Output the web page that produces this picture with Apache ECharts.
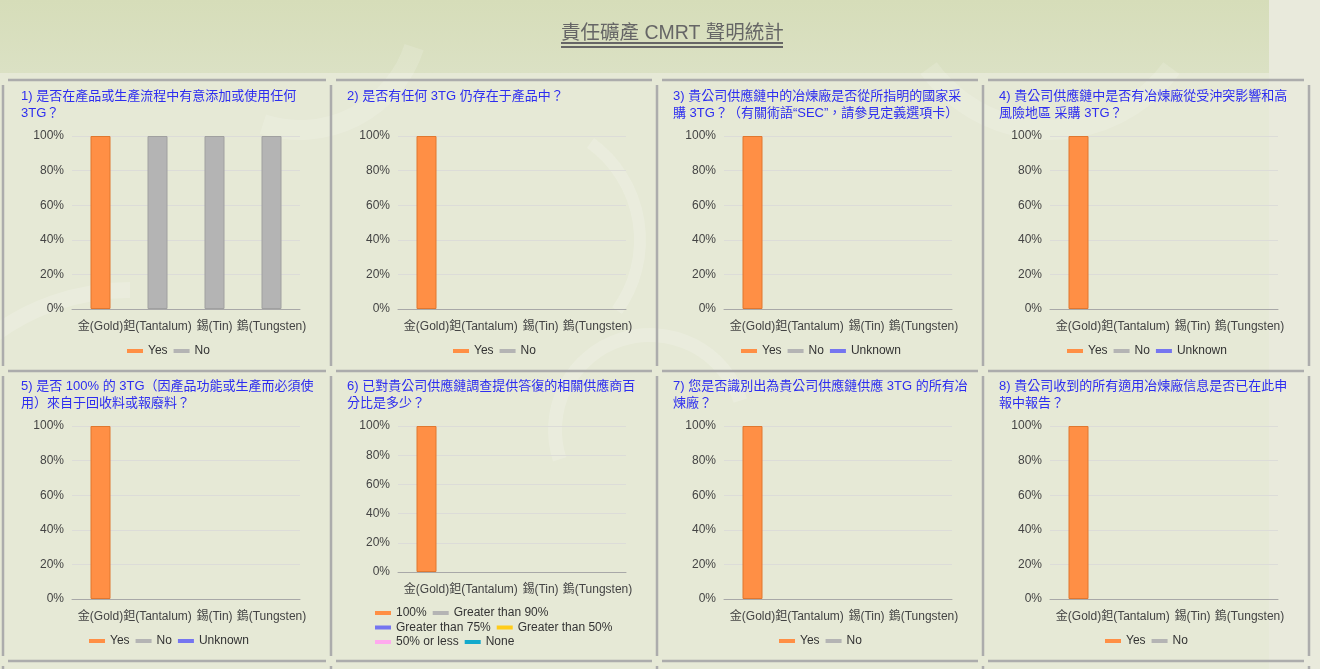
<!DOCTYPE html>
<html>
<head>
<meta charset="utf-8">
<script src="https://cdn.jsdelivr.net/npm/echarts@6/dist/echarts.min.js"></script>
<style>
html,body{margin:0;padding:0;background:#e6e9d6;}
#chart{width:1320px;height:669px;}
</style>
</head>
<body>
<div id="chart"></div>
<script>
// ---- data ----
const pageTitle = '責任礦產 CMRT 聲明統計';
const categories = ['金(Gold)', '鉭(Tantalum)', '錫(Tin)', '鎢(Tungsten)'];
const yTickMax = 100;
const yTickStep = 20;
const panelTitles = [
  '1) 是否在產品或生產流程中有意添加或使用任何\n3TG？',
  '2) 是否有任何 3TG 仍存在于產品中？',
  '3) 貴公司供應鏈中的冶煉廠是否從所指明的國家采\n購 3TG？（有關術語“SEC”，請參見定義選項卡）',
  '4) 貴公司供應鏈中是否有冶煉廠從受沖突影響和高\n風險地區 采購 3TG？',
  '5) 是否 100% 的 3TG（因產品功能或生產而必須使\n用）來自于回收料或報廢料？',
  '6) 已對貴公司供應鏈調查提供答復的相關供應商百\n分比是多少？',
  '7) 您是否識別出為貴公司供應鏈供應 3TG 的所有冶\n煉廠？',
  '8) 貴公司收到的所有適用冶煉廠信息是否已在此申\n報中報告？'
];
const yesNoNames = ['Yes', 'No'];
const yesNoUnknownNames = ['Yes', 'No', 'Unknown'];
const pctNames = ['100%', 'Greater than 90%', 'Greater than 75%', 'Greater than 50%', '50% or less', 'None'];

const p1Values = [[100, 0, 0, 0], [0, 100, 100, 100]];
const p2Values = [[100, 0, 0, 0], [0, 0, 0, 0]];
const p3Values = [[100, 0, 0, 0], [0, 0, 0, 0], [0, 0, 0, 0]];
const p4Values = [[100, 0, 0, 0], [0, 0, 0, 0], [0, 0, 0, 0]];
const p5Values = [[100, 0, 0, 0], [0, 0, 0, 0], [0, 0, 0, 0]];
const p6Values = [[100, 0, 0, 0], [0, 0, 0, 0], [0, 0, 0, 0], [0, 0, 0, 0], [0, 0, 0, 0], [0, 0, 0, 0]];
const p7Values = [[100, 0, 0, 0], [0, 0, 0, 0]];
const p8Values = [[100, 0, 0, 0], [0, 0, 0, 0]];

// ---- styles ----
const colorMap = {
  'Yes': '#ff8f45', 'No': '#b4b4b4', 'Unknown': '#7575f0',
  '100%': '#ff8f45', 'Greater than 90%': '#b4b4b4', 'Greater than 75%': '#7575f0',
  'Greater than 50%': '#ffcc1a', '50% or less': '#ffaaee', 'None': '#13aacc'
};
const borderMap = { '#ff8f45': '#e0772f', '#b4b4b4': '#a0a0a0' };
const FONT = '"Liberation Sans", Arial, "Noto Sans CJK TC", sans-serif';

const panels = [
  { names: yesNoNames, values: p1Values },
  { names: yesNoNames, values: p2Values },
  { names: yesNoUnknownNames, values: p3Values },
  { names: yesNoUnknownNames, values: p4Values },
  { names: yesNoUnknownNames, values: p5Values },
  { names: pctNames, values: p6Values },
  { names: yesNoNames, values: p7Values },
  { names: yesNoNames, values: p8Values }
];

const COL = 326, ROW1 = 0, ROW2 = 290;
const option = {
  animation: false,
  backgroundColor: 'transparent',
  textStyle: { fontFamily: FONT },
  title: [],
  legend: [],
  grid: [],
  xAxis: [],
  yAxis: [],
  series: [],
  graphic: []
};

option.title.push({
  text: pageTitle, left: 556, top: 19, padding: 5,
  textStyle: { fontSize: 19.5, fontWeight: 'normal', color: '#666', fontFamily: FONT }
});

panels.forEach((p, i) => {
  const c = i % 4, r = Math.floor(i / 4);
  const ox = c * COL, oy = r === 0 ? ROW1 : ROW2;
  option.title.push({
    text: panelTitles[i], left: 16 + ox, top: 83 + oy,
    textStyle: { fontSize: 13, fontWeight: 'normal', color: '#2d2df0', lineHeight: 17, fontFamily: FONT }
  });
  const isPct = p.names.length === 6;
  option.grid.push({
    left: 72 + ox, top: 136 + oy, width: 228, height: isPct ? 146 : 173
  });
  option.xAxis.push({
    type: 'category', gridIndex: i, data: categories,
    axisLine: { lineStyle: { color: '#a8a8a8' } },
    axisTick: { length: 5, lineStyle: { color: '#a8a8a8' } },
    axisLabel: { interval: 0, color: '#444', fontSize: 12, margin: 12, fontFamily: FONT }
  });
  option.yAxis.push({
    type: 'value', gridIndex: i, min: 0, max: yTickMax, interval: yTickStep,
    axisLine: { show: false }, axisTick: { show: false },
    axisLabel: { formatter: '{value}%', color: '#444', fontSize: 12, fontFamily: FONT },
    splitLine: { lineStyle: { color: '#dcdcd8' } }
  });
  p.names.forEach((n, k) => {
    const col = colorMap[n];
    option.series.push({
      type: 'bar', name: n, xAxisIndex: i, yAxisIndex: i, stack: 'p' + i,
      barWidth: 20,
      // zero shares are left empty so no zero-height sliver is drawn
      data: p.values[k].map(v => (v === 0 ? null : v)),
      itemStyle: { color: col, borderColor: borderMap[col] || col, borderWidth: 1 }
    });
  });
  const legendBase = {
    itemWidth: 16, itemHeight: 4, itemGap: 6, icon: 'rect',
    textStyle: { color: '#333', fontSize: 12, fontFamily: FONT },
    itemStyle: { borderWidth: 0 }
  };
  if (isPct) {
    [[0, 2], [2, 4], [4, 6]].forEach((rg, j) => {
      option.legend.push(Object.assign({}, legendBase, {
        data: p.names.slice(rg[0], rg[1]), left: 370, top: 602 + j * 14.5
      }));
    });
  } else {
    option.legend.push(Object.assign({}, legendBase, {
      data: p.names.slice(),
      left: (p.names.length === 2 ? 122 : 84) + ox,
      top: 340 + oy
    }));
  }
});

// ---- background & frame graphics ----
const g = option.graphic;
g.push({ type: 'rect', z: -20, shape: { x: 0, y: 0, width: 1320, height: 669 }, style: { fill: '#e6e9d6' } });
g.push({ type: 'rect', z: -19, shape: { x: 0, y: 0, width: 1269, height: 73 },
  style: { fill: { type: 'linear', x: 0, y: 0, x2: 0, y2: 1, colorStops: [{ offset: 0, color: '#d6ddb9' }, { offset: 1, color: '#dbe1c4' }] } } });
g.push({ type: 'rect', z: -19, shape: { x: 1269, y: 0, width: 51, height: 669 }, style: { fill: '#e9eadc' } });
// faint swirls
const swirl = 'rgba(255,255,255,0.17)';
g.push({ type: 'arc', z: -18, shape: { cx: 650, cy: 430, r: 95, startAngle: Math.PI * 0.9, endAngle: Math.PI * 1.9 }, style: { stroke: swirl, lineWidth: 14, fill: null } });
g.push({ type: 'arc', z: -18, shape: { cx: 130, cy: 520, r: 230, startAngle: Math.PI * 1.05, endAngle: Math.PI * 1.5 }, style: { stroke: swirl, lineWidth: 16, fill: null } });
g.push({ type: 'arc', z: -18, shape: { cx: 520, cy: 240, r: 120, startAngle: Math.PI * 1.7, endAngle: Math.PI * 2.2 }, style: { stroke: swirl, lineWidth: 12, fill: null } });
g.push({ type: 'arc', z: -18, shape: { cx: 300, cy: 10, r: 120, startAngle: Math.PI * 0.1, endAngle: Math.PI * 0.6 }, style: { stroke: 'rgba(255,255,255,0.14)', lineWidth: 20, fill: null } });
g.push({ type: 'arc', z: -18, shape: { cx: 1050, cy: -20, r: 150, startAngle: Math.PI * 0.2, endAngle: Math.PI * 0.8 }, style: { stroke: 'rgba(255,255,255,0.14)', lineWidth: 20, fill: null } });

// title underline (double)
g.push({ type: 'line', shape: { x1: 561, y1: 43, x2: 783, y2: 43 }, style: { stroke: '#666', lineWidth: 2 } });
g.push({ type: 'line', shape: { x1: 561, y1: 47, x2: 783, y2: 47 }, style: { stroke: '#666', lineWidth: 2 } });

// panel frame lines with small gaps at corners
const vx = [3, 331, 657, 983, 1309];
const hy = [80, 371, 661];
const frame = { stroke: '#acacac', lineWidth: 2.5 };
const GAP = 5;
for (let r = 0; r < hy.length; r++) {
  for (let c = 0; c < vx.length - 1; c++) {
    g.push({ type: 'line', shape: { x1: vx[c] + GAP, y1: hy[r], x2: vx[c + 1] - GAP, y2: hy[r] }, style: frame });
  }
}
for (let c = 0; c < vx.length; c++) {
  for (let r = 0; r < hy.length; r++) {
    const y2 = r + 1 < hy.length ? hy[r + 1] - GAP : 669;
    g.push({ type: 'line', shape: { x1: vx[c], y1: hy[r] + GAP, x2: vx[c], y2: y2 }, style: frame });
  }
}

const chart = echarts.init(document.getElementById('chart'), null, { renderer: 'canvas' });
chart.setOption(option);
</script>
</body>
</html>
